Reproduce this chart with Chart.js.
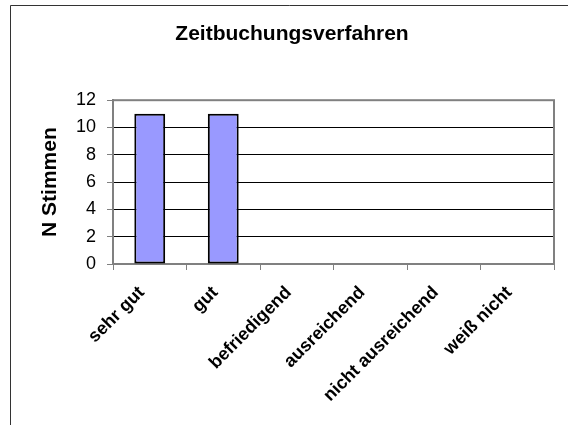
<!DOCTYPE html>
<html>
<head>
<meta charset="utf-8">
<script src="https://cdn.jsdelivr.net/npm/chart.js@4/dist/chart.umd.min.js"></script>
<style>
html,body{margin:0;padding:0;background:#fff;}
#wrap{position:relative;width:568px;height:425px;}
</style>
</head>
<body>
<div id="wrap"><canvas id="c" width="568" height="425"></canvas></div>
<script>
const titleText = "Zeitbuchungsverfahren";
const yAxisTitle = "N Stimmen";
const categories = ["sehr gut", "gut", "befriedigend", "ausreichend", "nicht ausreichend", "weiß nicht"];
const votes = [11, 11, 0, 0, 0, 0];
const yTicks = [0, 2, 4, 6, 8, 10, 12];

const FONT = "'Liberation Sans', Arial, Helvetica, sans-serif";

const framePlugin = {
  id: 'frame',
  beforeDraw(chart) {
    const ctx = chart.ctx;
    ctx.save();
    ctx.fillStyle = '#fff';
    ctx.fillRect(0, 0, chart.width, chart.height);
    ctx.strokeStyle = '#333';
    ctx.lineWidth = 1;
    ctx.beginPath();
    ctx.moveTo(10.5, chart.height);
    ctx.lineTo(10.5, 5.5);
    ctx.lineTo(chart.width, 5.5);
    ctx.stroke();
    ctx.restore();
  },
  beforeDatasetsDraw(chart) {
    const a = chart.chartArea;
    const ctx = chart.ctx;
    ctx.save();
    ctx.strokeStyle = '#808080';
    ctx.lineWidth = 2;
    ctx.strokeRect(a.left, a.top, a.right - a.left, a.bottom - a.top);
    ctx.restore();
  }
};

new Chart(document.getElementById('c'), {
  type: 'bar',
  data: {
    labels: categories,
    datasets: [{
      data: votes,
      backgroundColor: '#9999ff',
      borderColor: '#000',
      borderWidth: 2,
      borderSkipped: false,
      categoryPercentage: 1,
      barPercentage: 0.42
    }]
  },
  plugins: [framePlugin],
  options: {
    responsive: false,
    animation: false,
    layout: { padding: { left: 30, right: 14, top: 0, bottom: 0 } },
    plugins: {
      legend: { display: false },
      tooltip: { enabled: false },
      title: {
        display: true,
        text: titleText,
        color: '#000',
        font: { family: FONT, size: 21, weight: 'bold', lineHeight: 1.2 },
        padding: { top: 22, bottom: 53 }
      }
    },
    scales: {
      x: {
        offset: true,
        afterFit(s) { s.height = 161; },
        grid: { offset: true, drawOnChartArea: false, drawTicks: true, tickLength: 6, color: '#808080', lineWidth: 1 },
        border: { display: true, color: '#808080', width: 2 },
        ticks: {
          autoSkip: false, maxRotation: 45, minRotation: 45, padding: 12,
          labelOffset: -8,
          color: '#000',
          font: { family: FONT, size: 18, weight: 'bold' }
        }
      },
      y: {
        min: 0, max: 12,
        afterFit(s) { s.width = 83; },
        afterBuildTicks(s) { s.ticks = yTicks.map(v => ({ value: v })); },
        grid: { color: '#000', lineWidth: 1, drawTicks: true, tickLength: 6, tickColor: '#808080' },
        border: { display: true, color: '#808080', width: 2 },
        ticks: {
          padding: 11, color: '#000',
          font: { family: FONT, size: 18 }
        },
        title: {
          display: true,
          text: yAxisTitle,
          color: '#000',
          padding: { top: 8, bottom: 0 },
          font: { family: FONT, size: 21, weight: 'bold', lineHeight: 1.2 }
        }
      }
    }
  }
});
</script>
</body>
</html>
